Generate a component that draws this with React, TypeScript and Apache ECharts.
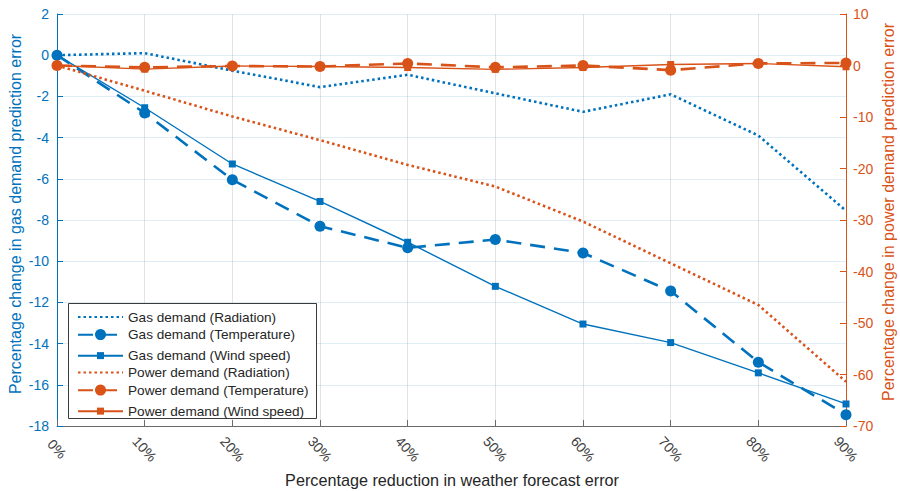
import React, { useEffect, useRef } from "react";
import * as echarts from "echarts";

const categories = ["0%", "10%", "20%", "30%", "40%", "50%", "60%", "70%", "80%", "90%"];

const gasRadiation = [0, 0.1, -0.75, -1.55, -0.95, -1.85, -2.75, -1.9, -3.9, -7.55];
const gasTemperature = [0, -2.8, -6.05, -8.3, -9.35, -8.95, -9.6, -11.45, -14.9, -17.45];
const gasWind = [0, -2.55, -5.28, -7.1, -9.08, -11.22, -13.05, -13.95, -15.42, -16.93];

const powerRadiation = [0, -4.9, -9.9, -14.5, -19.3, -23.5, -30.3, -38.4, -46.5, -61.4];
const powerTemperature = [0, -0.35, -0.1, -0.2, 0.4, -0.35, 0, -0.9, 0.4, 0.5];
const powerWind = [0, -0.7, -0.1, -0.2, -0.4, -0.75, -0.4, 0.2, 0.4, -0.25];

const legendNames = [
  "Gas demand (Radiation)",
  "Gas demand (Temperature)",
  "Gas demand (Wind speed)",
  "Power demand (Radiation)",
  "Power demand (Temperature)",
  "Power demand (Wind speed)",
];

const xTitle = "Percentage reduction in weather forecast error";
const yLeftTitle = "Percentage change in gas demand prediction error";
const yRightTitle = "Percentage change in power demand prediction error";

const BLUE = "#0072BD";
const ORANGE = "#D95319";
const DARK = "#262626";
const FONT = "'Liberation Sans', Arial, Helvetica, sans-serif";

export default function App() {
  const ref = useRef<HTMLDivElement>(null);

  useEffect(() => {
    if (!ref.current) return;
    const chart = echarts.init(ref.current, undefined, { renderer: "svg" });

    const dotted = (color: string) => ({ color, width: 2.6, type: [2.5, 3] as number[] });
    const dashed = (color: string) => ({ color, width: 2.6, type: [15, 9] as number[] });
    const solid = (color: string) => ({ color, width: 1.4, type: "solid" as const });

    const markerKind = ["none", "circle", "rect", "none", "circle", "rect"];
    const rowCenters = [316, 334.5, 353, 371.5, 390, 408.5];
    const legends = legendNames.map((name, i) => {
      const kind = markerKind[i];
      const h = kind === "circle" ? 13.75 : kind === "rect" ? 8.75 : 12;
      return {
        show: true,
        orient: "horizontal",
        left: 77,
        top: rowCenters[i] - h / 2,
        padding: 0,
        itemWidth: 45,
        itemHeight: h,
        z: 20,
        selectedMode: false,
        itemStyle: kind === "none" ? { opacity: 0 } : {},
        textStyle: { fontSize: 13.6, color: DARK, fontFamily: FONT },
        data: [name],
      };
    });

    chart.setOption({
      animation: false,
      backgroundColor: "#ffffff",
      textStyle: { fontFamily: FONT },
      grid: {
        left: 57,
        right: 54,
        top: 14,
        bottom: 65,
        containLabel: false,
        outerBoundsMode: "none",
      },
      legend: legends,
      graphic: [
        {
          type: "rect",
          z: 15,
          shape: { x: 68.5, y: 303.5, width: 248, height: 115 },
          style: { fill: "#ffffff", stroke: "#3a3a3a", lineWidth: 1 },
        },
        {
          type: "text",
          x: 452,
          y: 480,
          style: {
            text: xTitle,
            fontSize: 16.2,
            fontFamily: FONT,
            fill: DARK,
            align: "center",
            verticalAlign: "middle",
          },
        },
        {
          type: "text",
          x: 15,
          y: 214,
          rotation: Math.PI / 2,
          style: {
            text: yLeftTitle,
            fontSize: 16,
            fontFamily: FONT,
            fill: BLUE,
            align: "center",
            verticalAlign: "middle",
          },
        },
        {
          type: "text",
          x: 888,
          y: 212,
          rotation: Math.PI / 2,
          style: {
            text: yRightTitle,
            fontSize: 16,
            fontFamily: FONT,
            fill: ORANGE,
            align: "center",
            verticalAlign: "middle",
          },
        },
      ],
      xAxis: {
        type: "category",
        data: categories,
        boundaryGap: false,
        axisLine: { onZero: false, lineStyle: { color: "#6a6a6a", width: 1 } },
        axisTick: { inside: true, length: 6, lineStyle: { color: "#6a6a6a" } },
        axisLabel: {
          rotate: -48,
          align: "center",
          verticalAlign: "middle",
          fontSize: 14,
          color: "#404040",
          margin: 23,
          fontFamily: FONT,
        },
        splitLine: { show: true, lineStyle: { color: "rgba(38,38,38,0.13)", width: 1 } },
      },
      yAxis: [
        {
          type: "value",
          min: -18,
          max: 2,
          interval: 2,
          position: "left",
          axisLine: { show: true, onZero: false, lineStyle: { color: BLUE, width: 1 } },
          axisTick: { show: true, inside: true, length: 6, lineStyle: { color: BLUE } },
          axisLabel: { fontSize: 14, color: BLUE, margin: 8, fontFamily: FONT },
          splitLine: { show: true, lineStyle: { color: "rgba(0,114,189,0.13)", width: 1 } },
        },
        {
          type: "value",
          min: -70,
          max: 10,
          interval: 10,
          position: "right",
          axisLine: { show: true, onZero: false, lineStyle: { color: ORANGE, width: 1 } },
          axisTick: { show: true, inside: true, length: 6, lineStyle: { color: ORANGE } },
          axisLabel: { fontSize: 14, color: ORANGE, margin: 7, fontFamily: FONT },
          splitLine: { show: false },
        },
      ],
      series: [
        {
          name: legendNames[0],
          type: "line",
          yAxisIndex: 0,
          data: gasRadiation,
          symbol: "none",
          clip: false,
          color: BLUE,
          lineStyle: dotted(BLUE),
        },
        {
          name: legendNames[1],
          type: "line",
          yAxisIndex: 0,
          data: gasTemperature,
          symbol: "circle",
          symbolSize: 11,
          clip: false,
          color: BLUE,
          itemStyle: { color: BLUE },
          lineStyle: dashed(BLUE),
          z: 3,
        },
        {
          name: legendNames[2],
          type: "line",
          yAxisIndex: 0,
          data: gasWind,
          symbol: "rect",
          symbolSize: 7,
          clip: false,
          color: BLUE,
          itemStyle: { color: BLUE },
          lineStyle: solid(BLUE),
        },
        {
          name: legendNames[3],
          type: "line",
          yAxisIndex: 1,
          data: powerRadiation,
          symbol: "none",
          clip: false,
          color: ORANGE,
          lineStyle: dotted(ORANGE),
        },
        {
          name: legendNames[4],
          type: "line",
          yAxisIndex: 1,
          data: powerTemperature,
          symbol: "circle",
          symbolSize: 11,
          clip: false,
          color: ORANGE,
          itemStyle: { color: ORANGE },
          lineStyle: dashed(ORANGE),
          z: 4,
        },
        {
          name: legendNames[5],
          type: "line",
          yAxisIndex: 1,
          data: powerWind,
          symbol: "rect",
          symbolSize: 7,
          clip: false,
          color: ORANGE,
          itemStyle: { color: ORANGE },
          lineStyle: solid(ORANGE),
          z: 4,
        },
      ],
    });

    return () => chart.dispose();
  }, []);

  return (
    <div
      ref={ref}
      style={{ position: "fixed", left: 0, top: 0, width: 900, height: 491, background: "#fff" }}
    />
  );
}
